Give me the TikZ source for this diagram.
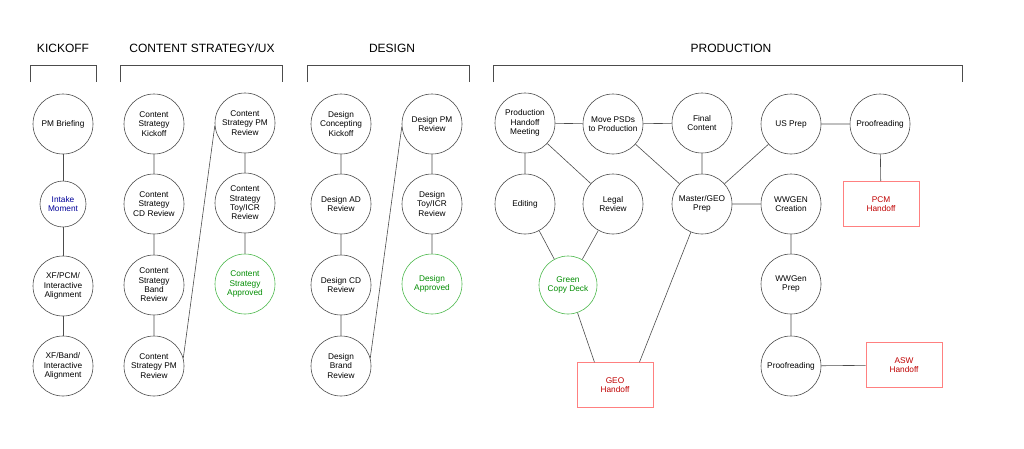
\documentclass[tikz,border=0pt]{standalone}
\usepackage{fontspec}
\setmainfont{Liberation Sans}
\begin{document}
\begin{tikzpicture}[x=1pt,y=-1pt,
  st/.style={circle,draw=black!70,line width=0.6pt,minimum size=60pt,inner sep=0pt,align=center,font=\fontsize{8.3}{9.4}\selectfont},
  sm/.style={st,minimum size=46pt,text=blue!60!black},
  gr/.style={st,draw=green!60!black!70,text=green!55!black},
  hb/.style={draw=red!50,line width=0.6pt,minimum width=76pt,minimum height=45pt,align=center,text=red!75!black,font=\fontsize{8.3}{9.4}\selectfont},
  ln/.style={draw=black!70,line width=0.6pt},
  ttl/.style={font=\fontsize{12}{14}\selectfont}]
\useasboundingbox (0,0) rectangle (1024,448);
% titles and brackets
\node[ttl] (t1) at (63,48) {KICKOFF};
\node[ttl] (t2) at (202,48) {CONTENT STRATEGY/UX};
\node[ttl] (t3) at (392,48) {DESIGN};
\node[ttl] (t4) at (731,48) {PRODUCTION};
\draw[ln] (30,82) -- (30,65) -- (96,65) -- (96,82);
\draw[ln] (120,82) -- (120,65) -- (282,65) -- (282,82);
\draw[ln] (307,82) -- (307,65) -- (469,65) -- (469,82);
\draw[ln] (493,82) -- (493,65) -- (962,65) -- (962,82);
% kickoff
\node[st] (k1) at (63,124) {PM Briefing};
\node[sm] (k2) at (63,204) {Intake\\Moment};
\node[st] (k3) at (63,286) {XF/PCM/\\Interactive\\Alignment};
\node[st] (k4) at (63,366) {XF/Band/\\Interactive\\Alignment};
\draw[ln] (k1)--(k2) (k2)--(k3) (k3)--(k4);
% content strategy
\node[st] (c1) at (154,124) {Content\\Strategy\\Kickoff};
\node[st] (c2) at (154,204) {Content\\Strategy\\CD Review};
\node[st] (c3) at (154,285) {Content\\Strategy\\Band\\Review};
\node[st] (c4) at (154,366) {Content\\Strategy PM\\Review};
\node[st] (c5) at (245,123) {Content\\Strategy PM\\Review};
\node[st] (c6) at (245,203) {Content\\Strategy\\Toy/ICR\\Review};
\node[gr] (c7) at (245,284) {Content\\Strategy\\Approved};
\draw[ln] (c1)--(c2) (c2)--(c3) (c3)--(c4) (c4.15)--(c5.185) (c5)--(c6) (c6)--(c7);
% design
\node[st] (d1) at (341,124) {Design\\Concepting\\Kickoff};
\node[st] (d2) at (341,204) {Design AD\\Review};
\node[st] (d3) at (341,285) {Design CD\\Review};
\node[st] (d4) at (341,366) {Design\\Brand\\Review};
\node[st] (d5) at (432,124) {Design PM\\Review};
\node[st] (d6) at (432,204) {Design\\Toy/ICR\\Review};
\node[gr] (d7) at (432,284) {Design\\Approved};
\draw[ln] (d1)--(d2) (d2)--(d3) (d3)--(d4) (d4.15)--(d5.185) (d5)--(d6) (d6)--(d7);
% production
\node[st] (p1) at (525,123) {Production\\Handoff\\Meeting};
\node[st] (p2) at (613,124) {Move PSDs\\to Production};
\node[st] (p3) at (702,123) {Final\\Content};
\node[st] (p4) at (791,124) {US Prep};
\node[st] (p5) at (880,124) {Proofreading};
\node[st] (p6) at (525,204) {Editing};
\node[st] (p7) at (613,204) {Legal\\Review};
\node[st] (p8) at (702,204) {Master/GEO\\Prep};
\node[st] (p9) at (791,204) {WWGEN\\Creation};
\node[gr,minimum size=58pt] (p10) at (568,285) {Green\\Copy Deck};
\node[st] (p11) at (791,284) {WWGen\\Prep};
\node[st] (p12) at (791,366) {Proofreading};
\node[hb] (h1) at (881,204) {PCM\\Handoff};
\node[hb] (h2) at (615,385) {GEO\\Handoff};
\node[hb] (h3) at (904,365) {ASW\\Handoff};
\draw[ln] (p1)--(p2) (p2)--(p3) (p4)--(p5) (p1)--(p6) (p1)--(p7) (p2)--(p8)
  (p3)--(p8) (p4)--(p8) (p8)--(p9) (p5)--(h1) (p6)--(p10) (p7)--(p10)
  (p10)--(h2.132) (p8)--(h2.43) (p9)--(p11) (p11)--(p12) (p12)--(h3);
\end{tikzpicture}
\end{document}
